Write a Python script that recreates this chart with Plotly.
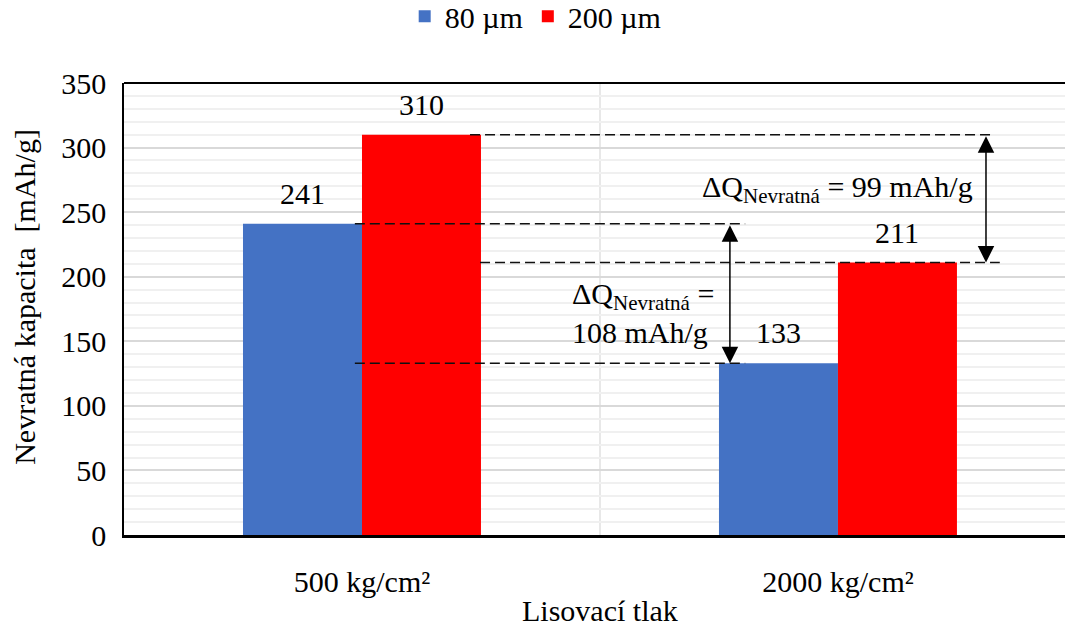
import plotly.graph_objects as go

categories = ["500 kg/cm²", "2000 kg/cm²"]
series_names = ["80 µm", "200 µm"]
values_80 = [241, 133]
values_200 = [310, 211]
y_ticks = [0, 50, 100, 150, 200, 250, 300, 350]

FONT = "Liberation Serif"
FS = 30
BLUE = "#4472C4"
RED = "#FF0000"
BAR_W = 0.25

x_idx = list(range(len(categories)))

fig = go.Figure()
fig.add_trace(go.Bar(x=x_idx, y=values_80, name=series_names[0], marker_color=BLUE,
                     width=BAR_W, offset=-BAR_W, marker_line_width=0))
fig.add_trace(go.Bar(x=x_idx, y=values_200, name=series_names[1], marker_color=RED,
                     width=BAR_W, offset=0, marker_line_width=0))


def tf():
    return dict(size=FS, family=FONT, color="black")


annotations = []
# data labels
for i, v in enumerate(values_80):
    annotations.append(dict(x=i - BAR_W / 2, y=v, text=str(v), showarrow=False,
                            yanchor="bottom", yshift=12, font=tf()))
for i, v in enumerate(values_200):
    annotations.append(dict(x=i + BAR_W / 2, y=v, text=str(v), showarrow=False,
                            yanchor="bottom", yshift=12, font=tf()))

d1 = values_80[0] - values_80[1]
d2 = values_200[0] - values_200[1]

# double-headed arrows
ax1 = 0.773
ax2 = 1.311
for xa, ytop, ybot in [(ax1, values_80[0], values_80[1]), (ax2, values_200[0], values_200[1])]:
    annotations.append(dict(x=xa, y=ybot, ax=xa, ay=ytop, xref="x", yref="y", axref="x", ayref="y",
                            showarrow=True, arrowhead=2, arrowside="end+start", arrowsize=2.2,
                            arrowwidth=1.5, arrowcolor="black", standoff=0, startstandoff=0, text=""))

annotations.append(dict(x=1.288, y=268, xanchor="right", yanchor="middle", showarrow=False,
                        text=f"ΔQ<sub>Nevratná</sub> = {d2} mAh/g", font=tf()))
annotations.append(dict(x=0.437, y=172, xanchor="left", yanchor="middle", showarrow=False, align="left",
                        text=f"ΔQ<sub>Nevratná</sub> =<br>{d1} mAh/g", font=tf()))

# axis titles
annotations.append(dict(x=0.506, y=0, xref="paper", yref="paper", yshift=-75, yanchor="middle",
                        xanchor="center", showarrow=False, text="Lisovací tlak", font=tf()))
annotations.append(dict(x=0, y=0.527, xref="paper", yref="paper", xshift=-99, yanchor="middle",
                        xanchor="center", showarrow=False, textangle=-90,
                        text="Nevratná kapacita  [mAh/g]", font=tf()))

shapes = []
dash_style = dict(color="#111111", width=1.5, dash="10px,5px")
for (x0, x1, yv) in [(0.227, 1.33, values_200[0]), (-0.015, 0.805, values_80[0]),
                     (0.248, 1.34, values_200[1]), (-0.015, 0.805, values_80[1])]:
    shapes.append(dict(type="line", xref="x", yref="y", x0=x0, x1=x1, y0=yv, y1=yv, line=dash_style,
                       layer="above"))
# top border
shapes.append(dict(type="line", xref="paper", yref="paper", x0=0, x1=1, y0=1, y1=1,
                   line=dict(color="black", width=2)))

fig.update_layout(
    width=1065, height=628,
    margin=dict(l=124, r=0, t=83, b=93, autoexpand=False),
    plot_bgcolor="white", paper_bgcolor="white",
    font=dict(family=FONT, size=FS, color="black"),
    showlegend=True,
    legend=dict(orientation="h", x=0.503, xref="container", xanchor="center", y=0.974, yref="container",
                yanchor="middle", font=tf(), itemwidth=30, tracegroupgap=0),
    annotations=annotations,
    shapes=shapes,
    bargap=0.5,
)
fig.update_xaxes(
    range=[-0.5, 1.477], tickvals=x_idx, ticktext=categories, showgrid=False, automargin=False,
    showline=True, linecolor="black", linewidth=2.5, zeroline=False, ticks="",
    ticklabelstandoff=18, tickfont=tf(),
    minor=dict(tick0=0.5, dtick=1, showgrid=True, gridcolor="#e8e8e8", gridwidth=2),
)
fig.update_yaxes(
    range=[0, 350], tickvals=y_ticks, showgrid=True, gridcolor="#d9d9d9", gridwidth=2, automargin=False,
    showline=True, linecolor="black", linewidth=1.5, zeroline=False, ticks="",
    ticklabelstandoff=10, tickfont=tf(),
    minor=dict(dtick=10, showgrid=True, gridcolor="#f0f0f0", gridwidth=2),
)

fig.write_html("out.html", config={"displayModeBar": False},
               post_script="document.body.style.margin='0';")
